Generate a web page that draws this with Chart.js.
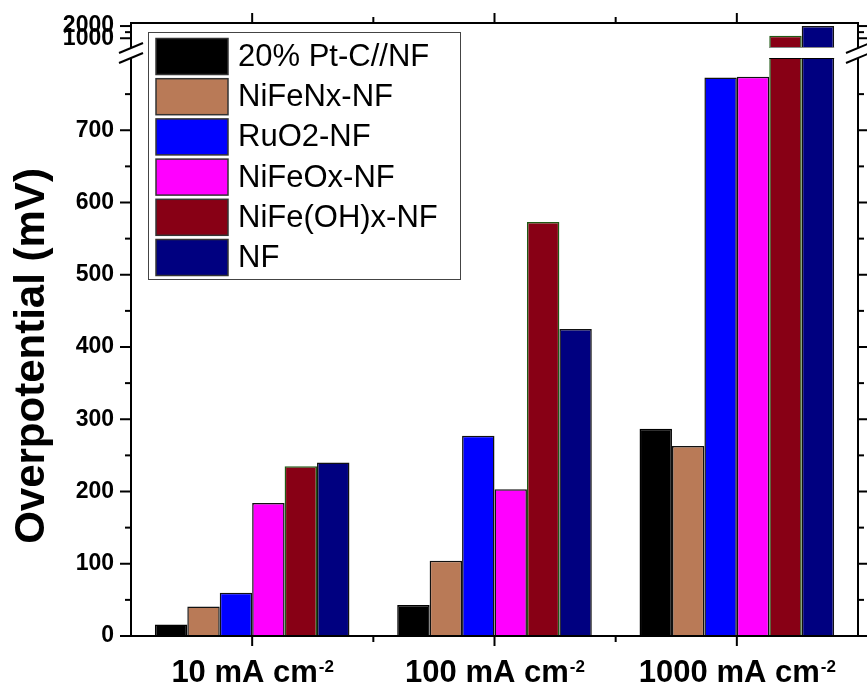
<!DOCTYPE html>
<html>
<head>
<meta charset="utf-8">
<script src="https://cdn.jsdelivr.net/npm/chart.js@4.4.1/dist/chart.umd.min.js"></script>
<style>
  html, body { margin: 0; padding: 0; background: #fff; }
</style>
</head>
<body>
<canvas id="myChart" width="867" height="686"></canvas>
<script>
// current densities on the x axis (trailing "-2" is drawn as a superscript)
const currentLabels = ['10 mA cm-2', '100 mA cm-2', '1000 mA cm-2']

// overpotential in mV for each catalyst
const ptcData = [16, 43, 287]
const nifenxData = [41, 104, 263]
const ruo2Data = [60, 277, 773]
const nifeoxData = [184, 203, 774]
const nifeohData = [235, 573, 1200]
const nfData = [240, 425, 2000]

const yTickValues = [0, 100, 200, 300, 400, 500, 600, 700, 1000, 2000]
const yMinorValues = [50, 150, 250, 350, 450, 550, 650, 750, 1500]

const FONT = '"Liberation Sans", Arial, sans-serif'

// linear axis with a break: 0..lowerMax fills most of the height,
// a short upper band (upperMin..upperMax) sits above a white gap
class BrokenLinearScale extends Chart.LinearScale {
  getPixelForValue(value) {
    const b = this.options.axisBreak
    const lowTop = this.top + b.upperHeight + b.gap
    if (value <= b.lowerMax) {
      return this.bottom - (value - this.min) / (b.lowerMax - this.min) * (this.bottom - lowTop)
    }
    return this.top + b.upperHeight - (value - b.upperMin) / (b.upperMax - b.upperMin) * b.upperHeight
  }
  getValueForPixel(pixel) {
    const b = this.options.axisBreak
    const lowTop = this.top + b.upperHeight + b.gap
    if (pixel >= lowTop) {
      return this.min + (this.bottom - pixel) / (this.bottom - lowTop) * (b.lowerMax - this.min)
    }
    return b.upperMin + (this.top + b.upperHeight - pixel) / b.upperHeight * (b.upperMax - b.upperMin)
  }
}
BrokenLinearScale.id = 'brokenLinear'
BrokenLinearScale.defaults = Chart.LinearScale.defaults
Chart.register(BrokenLinearScale)

function line(ctx, x1, y1, x2, y2) {
  ctx.beginPath()
  ctx.moveTo(x1, y1)
  ctx.lineTo(x2, y2)
  ctx.stroke()
}

const framePlugin = {
  id: 'frame',
  afterDatasetsDraw(chart) {
    const { ctx, chartArea: a, scales: { y } } = chart
    const b = y.options.axisBreak
    const gTop = a.top + b.upperHeight
    const gBot = gTop + b.gap
    ctx.save()
    ctx.fillStyle = '#fff'
    ctx.fillRect(a.left, gTop, a.right - a.left, b.gap)
    ctx.lineWidth = 1
    chart.data.datasets.forEach((ds, i) => {
      chart.getDatasetMeta(i).data.forEach((bar, j) => {
        if (ds.data[j] <= b.lowerMax) return
        const x0 = bar.x - bar.width / 2
        const x1 = bar.x + bar.width / 2
        ctx.strokeStyle = '#888'
        line(ctx, x0, gTop - 0.5, x1, gTop - 0.5)
        ctx.strokeStyle = '#000'
        line(ctx, x0, gBot + 0.5, x1, gBot + 0.5)
      })
    })
    ctx.restore()
  },
  afterDraw(chart) {
    const { ctx, chartArea: a, scales: { x, y } } = chart
    const b = y.options.axisBreak
    const gTop = a.top + b.upperHeight
    const gBot = gTop + b.gap
    ctx.save()
    ctx.strokeStyle = '#000'
    ctx.lineWidth = 2

    // frame, side lines interrupted at the break
    line(ctx, a.left - 1, a.top, a.right + 1, a.top)
    line(ctx, a.left - 1, a.bottom, a.right + 1, a.bottom)
    ;[a.left, a.right].forEach(px => {
      line(ctx, px, a.top, px, gTop)
      line(ctx, px, gBot, px, a.bottom)
      line(ctx, px - 12, gTop + 5, px + 12, gTop - 5)
      line(ctx, px - 12, gBot + 5, px + 12, gBot - 5)
    })

    // y ticks, outward on both sides
    yTickValues.forEach(v => {
      const py = y.getPixelForValue(v)
      line(ctx, a.left - 11, py, a.left, py)
      line(ctx, a.right, py, a.right + 11, py)
    })
    yMinorValues.forEach(v => {
      const py = y.getPixelForValue(v)
      line(ctx, a.left - 6, py, a.left, py)
      line(ctx, a.right, py, a.right + 6, py)
    })

    // x ticks: major at categories, minor between them
    currentLabels.forEach((_, i) => {
      const px = x.getPixelForValue(i)
      line(ctx, px, a.top - 10, px, a.top)
      line(ctx, px, a.bottom, px, a.bottom + 10)
      if (i < currentLabels.length - 1) {
        const mx = x.getPixelForValue(i + 0.5)
        line(ctx, mx, a.top - 6, mx, a.top)
        line(ctx, mx, a.bottom, mx, a.bottom + 6)
      }
    })

    // category labels with superscript exponent
    ctx.fillStyle = '#000'
    ctx.textBaseline = 'alphabetic'
    ctx.textAlign = 'left'
    currentLabels.forEach((label, i) => {
      const main = label.slice(0, -2)
      const sup = label.slice(-2)
      ctx.font = 'bold 31px ' + FONT
      const w1 = ctx.measureText(main).width
      ctx.font = 'bold 17px ' + FONT
      const w2 = ctx.measureText(sup).width
      const x0 = x.getPixelForValue(i) - (w1 + w2) / 2
      ctx.font = 'bold 31px ' + FONT
      ctx.fillText(main, x0, 682)
      ctx.font = 'bold 17px ' + FONT
      ctx.fillText(sup, x0 + w1 + 1, 672)
    })

    // y axis title
    ctx.save()
    ctx.translate(32, 356)
    ctx.rotate(-Math.PI / 2)
    ctx.textAlign = 'center'
    ctx.textBaseline = 'middle'
    ctx.font = 'bold 42px ' + FONT
    ctx.fillText('Overpotential (mV)', 0, 0)
    ctx.restore()

    // legend box
    ctx.lineWidth = 1
    ctx.strokeStyle = '#444'
    ctx.strokeRect(148.5, 32.5, 312, 247)
    ctx.font = '31px ' + FONT
    ctx.textBaseline = 'middle'
    chart.data.datasets.forEach((ds, i) => {
      const sy = 38.5 + i * 40.2
      ctx.fillStyle = ds.backgroundColor
      ctx.fillRect(156, sy, 72, 36)
      ctx.lineWidth = 1.5
      ctx.strokeStyle = '#333'
      ctx.strokeRect(156, sy, 72, 36)
      ctx.fillStyle = '#000'
      ctx.fillText(ds.label, 238, sy + 19)
    })
    ctx.restore()
  }
}

const ctx = document.getElementById('myChart').getContext('2d')
const myChart = new Chart(ctx, {
  type: 'bar',
  data: {
    labels: currentLabels,
    datasets: [
      { label: '20% Pt-C//NF', data: ptcData, backgroundColor: '#000000', borderColor: '#000000' },
      { label: 'NiFeNx-NF', data: nifenxData, backgroundColor: '#b97a57', borderColor: '#111111' },
      { label: 'RuO2-NF', data: ruo2Data, backgroundColor: '#0000ff', borderColor: '#111111' },
      { label: 'NiFeOx-NF', data: nifeoxData, backgroundColor: '#ff00ff', borderColor: '#111111' },
      { label: 'NiFe(OH)x-NF', data: nifeohData, backgroundColor: '#880015', borderColor: '#1f5a14' },
      { label: 'NF', data: nfData, backgroundColor: '#000080', borderColor: '#111111' }
    ]
  },
  options: {
    responsive: false,
    animation: false,
    events: [],
    layout: { padding: { top: 23, right: 9, left: 0, bottom: 0 } },
    datasets: {
      bar: { categoryPercentage: 0.803, barPercentage: 1, borderWidth: 1.5 }
    },
    plugins: {
      legend: { display: false },
      tooltip: { enabled: false }
    },
    scales: {
      x: {
        type: 'category',
        offset: true,
        grid: { display: false },
        border: { display: false },
        ticks: { display: false },
        afterFit: (scale) => { scale.height = 50 }
      },
      y: {
        type: 'brokenLinear',
        position: 'left',
        min: 0,
        max: 2250,
        axisBreak: { lowerMax: 800, upperMin: 200, upperMax: 2250, upperHeight: 25, gap: 10 },
        grid: { display: false, drawTicks: true, tickLength: 11 },
        border: { display: false },
        ticks: {
          autoSkip: false,
          padding: 6,
          color: '#000',
          font: { family: FONT, size: 23, weight: 'bold' },
          callback: (v) => String(v)
        },
        afterBuildTicks: (scale) => { scale.ticks = yTickValues.map(v => ({ value: v })) },
        afterFit: (scale) => { scale.width = 131 }
      }
    }
  },
  plugins: [framePlugin]
})
</script>
</body>
</html>
